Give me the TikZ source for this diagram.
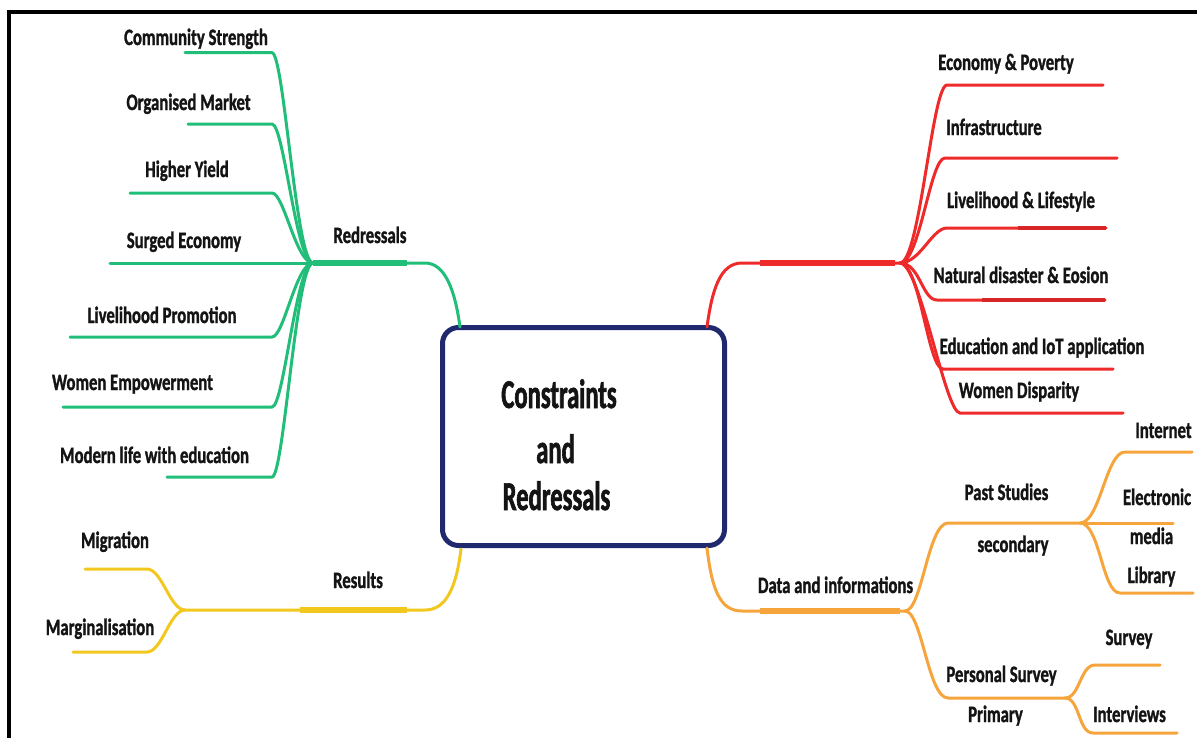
\documentclass[tikz,border=0pt]{standalone}
\usepackage{fontspec}
\usetikzlibrary{calc}
\newfontfamily\leaffont{Carlito}[FakeStretch=0.71,FakeBold=1.2]
\newfontfamily\centfont{Carlito}[FakeStretch=0.6,FakeBold=1.5]
\definecolor{mgreen}{RGB}{32,190,120}
\definecolor{mred}{RGB}{238,42,42}
\definecolor{morange}{RGB}{245,165,60}
\definecolor{myellow}{RGB}{242,200,30}
\definecolor{mnavy}{RGB}{32,40,110}
\begin{document}
\begin{tikzpicture}[x=1pt,y=-1pt,
  lbl/.style={font=\leaffont\bfseries\fontsize{23.5}{26}\selectfont, inner sep=0pt, anchor=base, text=black!92},
  ctr/.style={font=\centfont\bfseries\fontsize{41}{50}\selectfont, inner sep=0pt, anchor=base, text=black!92},
  br/.style={line width=3pt, line cap=round},
  brk/.style={line width=5.5pt},
  ]
\useasboundingbox (0,0) rectangle (1197,737);
\clip (0,0) rectangle (1197,737);
% frame
\draw[line width=4pt] (9,760) -- (9,11.5) -- (1220,11.5);

% central box
\node[draw=mnavy, line width=5pt, rounded corners=16pt, minimum width=282pt, minimum height=218pt, inner sep=0pt] (box) at (583.5,436.5) {};
\node[ctr] (t1) at (559,408) {Constraints};
\node[ctr] (t2) at (555.5,463) {and};
\node[ctr] (t3) at (556.5,510) {Redressals};

% ---------------- green: Redressals
\coordinate (G) at (313,263);
\coordinate (gB) at (460,327);
\coordinate (gK) at (425,263);
\coordinate (gT) at (407,263);
\draw[br, mgreen] (gB) .. controls (455,290) and (445,263) .. (gK) -- (G);
\draw[brk, mgreen] (gT) -- (G);
\node[lbl] (redr) at (370,243) {Redressals};
\foreach \n/\y/\xs/\t/\tx/\ty in {
  cs/52.7/185/Community Strength/196/45,
  om/124/188/Organised Market/188.5/110,
  hy/193/130/Higher Yield/187/177,
  lp/337/70/Livelihood Promotion/162/323,
  we/407/63/Women Empowerment/132.5/390,
  ml/477/167/Modern life with education/154.5/463}{
  \coordinate (ge\n) at (272,\y);
  \coordinate (gl\n) at (\xs,\y);
  \draw[br, mgreen] (G) .. controls ($(G)+(-17,0)$) and ($(ge\n)+(12,0)$) .. (ge\n) -- (gl\n);
  \node[lbl] (n\n) at (\tx,\ty) {\t};
}
\coordinate (glse) at (110,263);
\draw[br, mgreen] (G) -- (glse);
\node[lbl] (nse) at (184,248) {Surged Economy};

% ---------------- red
\coordinate (R) at (900,263);
\coordinate (rB) at (707,327);
\coordinate (rK) at (742,263);
\coordinate (rT) at (760,263);
\draw[br, mred] (rB) .. controls (712,290) and (720,263) .. (rK) -- (R);
\draw[brk, mred] (rT) -- ($(R)+(-5,0)$);
\foreach \n/\y/\xs/\xe/\t/\tx/\ty in {
  ep/85/947/1103/Economy \& Poverty/1006/70,
  in/158/945/1117/Infrastructure/994/135,
  ll/228/947/1106/Livelihood \& Lifestyle/1021/208,
  nd/300/937/1105/Natural disaster \& Eosion/1021/283,
  ed/369/943/1113/Education and IoT application/1042/354,
  wd/413/960/1123/Women Disparity/1019/398}{
  \coordinate (rs\n) at (\xs,\y);
  \coordinate (re\n) at (\xe,\y);
  \draw[br, mred] (R) .. controls ($(R)+(20,0)$) and ($(rs\n)+(-15,0)$) .. (rs\n) -- (re\n);
  \node[lbl] (n\n) at (\tx,\ty) {\t};
}
\draw[line width=4.5pt, mred!90!black] (1018,228) -- (rell);
\draw[line width=4.5pt, mred!90!black] (982,300) -- (rend);

% ---------------- orange
\coordinate (O) at (905,611);
\coordinate (oB) at (707,548);
\coordinate (oK) at (742,611);
\coordinate (oT) at (760,611);
\draw[br, morange] (oB) .. controls (712,590) and (720,611) .. (oK) -- (O);
\draw[brk, morange] (oT) -- ($(O)+(-5,0)$);
\node[lbl] (ndata) at (835.5,593) {Data and informations};
\coordinate (psH) at (1080,523);
\coordinate (ppH) at (1065,698);
\draw[br, morange] (O) .. controls (922,611) and (928,523) .. (948,523) -- (psH);
\draw[br, morange] (O) .. controls (922,611) and (928,698) .. (948,698) -- (ppH);
\node[lbl] (nps) at (1006.5,500) {Past Studies};
\node[lbl] (nsec) at (1013,552) {secondary};
\node[lbl] (npp) at (1001.5,682) {Personal Survey};
\node[lbl] (npri) at (995.5,722) {Primary};
\coordinate (oint) at (1192,452);
\coordinate (oele) at (1173,523);
\coordinate (olib) at (1193,593);
\coordinate (osur) at (1160,665);
\coordinate (oitv) at (1177,733);
\draw[br, morange] (psH) .. controls (1100,523) and (1106,452) .. (1125,452) -- (oint);
\draw[br, morange] (psH) -- (oele);
\draw[br, morange] (psH) .. controls (1100,523) and (1102,593) .. (1120,593) -- (olib);
\draw[br, morange] (ppH) .. controls (1080,698) and (1080,665) .. (1095,665) -- (osur);
\draw[br, morange] (ppH) .. controls (1080,698) and (1078,733) .. (1093,733) -- (oitv);
\node[lbl] (nint) at (1163.5,438) {Internet};
\node[lbl] (nele) at (1157,505) {Electronic};
\node[lbl] (nmed) at (1151.5,544) {media};
\node[lbl] (nlib) at (1151.5,583) {Library};
\node[lbl] (nsur) at (1129,645) {Survey};
\node[lbl] (nitv) at (1129.5,722) {Interviews};

% ---------------- yellow
\coordinate (Y) at (185,610);
\coordinate (yB) at (461,549);
\coordinate (yK) at (425,610);
\coordinate (yT) at (407,610);
\coordinate (yS) at (300,610);
\draw[br, myellow] (yB) .. controls (456,590) and (445,610) .. (yK) -- (Y);
\draw[brk, myellow] (yT) -- (yS);
\node[lbl] (nres) at (358,588) {Results};
\coordinate (ymig) at (85,569);
\coordinate (ymar) at (73,652);
\draw[br, myellow] (Y) .. controls (170,610) and (162,569) .. (147,569) -- (ymig);
\draw[br, myellow] (Y) .. controls (170,610) and (162,652) .. (147,652) -- (ymar);
\node[lbl] (nmig) at (115,548) {Migration};
\node[lbl] (nmar) at (100,635) {Marginalisation};
\end{tikzpicture}
\end{document}
